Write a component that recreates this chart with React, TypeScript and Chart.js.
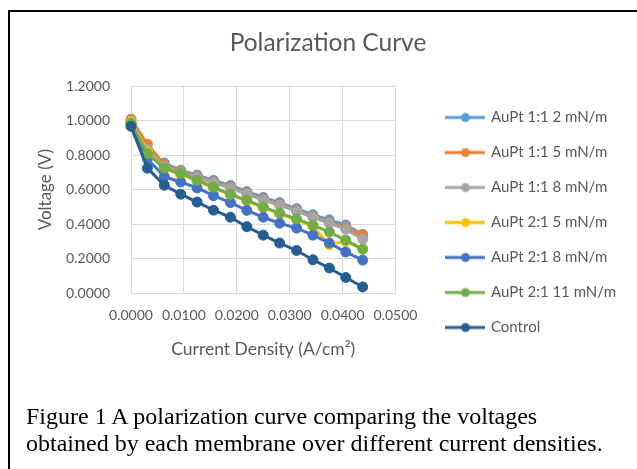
import React, { useEffect, useRef } from "react";
import { Chart, registerables } from "chart.js";

Chart.register(...registerables);

// ---- data ----
const currentDensity = [0, 0.0031, 0.0063, 0.0094, 0.0125, 0.0156, 0.0188, 0.0219, 0.025, 0.0281, 0.0313, 0.0344, 0.0375, 0.0406, 0.0438];

const seriesNames = [
  "AuPt 1:1 2 mN/m",
  "AuPt 1:1 5 mN/m",
  "AuPt 1:1 8 mN/m",
  "AuPt 2:1 5 mN/m",
  "AuPt 2:1 8 mN/m",
  "AuPt 2:1 11 mN/m",
  "Control",
];

const aupt11_2 = [0.99, 0.8, 0.755, 0.713, 0.685, 0.655, 0.625, 0.59, 0.555, 0.525, 0.49, 0.455, 0.425, 0.395, 0.34];
const aupt11_5 = [1.01, 0.865, 0.745, 0.705, 0.675, 0.645, 0.615, 0.58, 0.545, 0.515, 0.48, 0.445, 0.41, 0.38, 0.336];
const aupt11_8 = [1.0, 0.835, 0.735, 0.7, 0.67, 0.64, 0.61, 0.575, 0.54, 0.51, 0.475, 0.44, 0.405, 0.37, 0.313];
const aupt21_5 = [0.99, 0.82, 0.72, 0.69, 0.65, 0.61, 0.57, 0.535, 0.495, 0.46, 0.425, 0.385, 0.282, 0.3, 0.255];
const aupt21_8 = [0.975, 0.78, 0.675, 0.645, 0.61, 0.565, 0.525, 0.48, 0.44, 0.405, 0.377, 0.336, 0.29, 0.238, 0.191];
const aupt21_11 = [0.985, 0.81, 0.725, 0.695, 0.655, 0.615, 0.572, 0.54, 0.5, 0.464, 0.43, 0.394, 0.354, 0.307, 0.255];
const control = [0.968, 0.725, 0.626, 0.574, 0.528, 0.481, 0.44, 0.385, 0.336, 0.29, 0.247, 0.193, 0.145, 0.09, 0.035];

const seriesValues = [aupt11_2, aupt11_5, aupt11_8, aupt21_5, aupt21_8, aupt21_11, control];
const seriesColors = ["#5B9BD5", "#ED7D31", "#A5A5A5", "#FFC000", "#4472C4", "#70AD47", "#255E91"];

const xTickValues = [0, 0.01, 0.02, 0.03, 0.04, 0.05];
const yTickValues = [0, 0.2, 0.4, 0.6, 0.8, 1.0, 1.2];

const chartTitle = "Polarization Curve";
const xAxisTitle = "Current Density (A/cm²)";
const yAxisTitle = "Voltage (V)";
const captionLines = [
  "Figure 1 A polarization curve comparing the voltages",
  "obtained by each membrane over different current densities.",
];

const FONT = "Lato, 'Open Sans', sans-serif";
const TEXT = "#595959";
const GRID = "#d9d9d9";

function legendMarker(color: string) {
  const c = document.createElement("canvas");
  c.width = 40;
  c.height = 12;
  const g = c.getContext("2d")!;
  g.strokeStyle = color;
  g.lineWidth = 3;
  g.beginPath();
  g.moveTo(0, 6);
  g.lineTo(40, 6);
  g.stroke();
  g.fillStyle = color;
  g.beginPath();
  g.arc(20, 6, 4.5, 0, Math.PI * 2);
  g.fill();
  return c;
}

export default function App() {
  const ref = useRef<HTMLCanvasElement | null>(null);

  useEffect(() => {
    if (!ref.current) return;
    const markers = seriesColors.map(legendMarker);
    const datasets = seriesNames.map((name, i) => ({
      label: name,
      data: currentDensity.map((x, j) => ({ x, y: seriesValues[i][j] })),
      borderColor: seriesColors[i],
      backgroundColor: seriesColors[i],
      pointBackgroundColor: seriesColors[i],
      pointBorderColor: seriesColors[i],
      borderWidth: 3,
      pointRadius: 5,
      pointBorderWidth: 1,
      tension: 0,
      order: -i,
      clip: false as any,
    }));

    const chart = new Chart(ref.current, {
      type: "line",
      data: { datasets },
      options: {
        animation: false,
        responsive: false,
        layout: { padding: { top: 0, bottom: 24, left: 30, right: 11 } },
        plugins: {
          title: {
            display: true,
            text: chartTitle,
            color: TEXT,
            font: { family: FONT, size: 24.5, weight: "normal" },
            padding: { top: 28, bottom: 29 },
          },
          legend: {
            position: "right",
            maxWidth: 400,
            labels: {
              usePointStyle: true,
              pointStyleWidth: 36,
              padding: 20,
              color: TEXT,
              font: { family: FONT, size: 15 },
              generateLabels: (ch: any) =>
                ch.data.datasets.map((ds: any, i: number) => ({
                  text: ds.label,
                  fillStyle: seriesColors[i],
                  strokeStyle: seriesColors[i],
                  lineWidth: 0,
                  pointStyle: markers[i],
                  hidden: false,
                  datasetIndex: i,
                  fontColor: TEXT,
                })),
            },
          },
          tooltip: { enabled: false },
        },
        scales: {
          x: {
            type: "linear",
            min: 0,
            max: 0.05,
            afterBuildTicks: (s: any) => {
              s.ticks = xTickValues.map((v) => ({ value: v }));
            },
            afterFit: (s: any) => {
              s.height = 152;
            },
            ticks: {
              color: TEXT,
              font: { family: FONT, size: 14 },
              padding: 14,
              maxRotation: 0,
              callback: (v: any) => Number(v).toFixed(4),
            },
            grid: { color: GRID, lineWidth: 1, drawTicks: false },
            border: { color: GRID },
            title: {
              display: true,
              text: xAxisTitle,
              color: TEXT,
              font: { family: FONT, size: 17.5 },
              padding: { top: 4, bottom: 85 },
            },
          },
          y: {
            type: "linear",
            min: 0,
            max: 1.2,
            afterBuildTicks: (s: any) => {
              s.ticks = yTickValues.map((v) => ({ value: v }));
            },
            afterFit: (s: any) => {
              s.width = 101;
            },
            ticks: {
              color: TEXT,
              font: { family: FONT, size: 14 },
              padding: 21,
              callback: (v: any) => Number(v).toFixed(4),
            },
            grid: { color: GRID, lineWidth: 1, drawTicks: false },
            border: { color: GRID },
            title: {
              display: true,
              text: yAxisTitle,
              color: TEXT,
              font: { family: FONT, size: 17 },
              padding: { top: 5, bottom: 0 },
            },
          },
          spacer: {
            type: "linear",
            position: "right",
            display: true,
            afterFit: (s: any) => {
              s.width = 32;
            },
            ticks: { display: false },
            grid: { display: false, drawTicks: false },
            border: { display: false },
          },
        },
      } as any,
    });
    return () => chart.destroy();
  }, []);

  return (
    <div style={{ position: "absolute", left: 0, top: 0, width: 637, height: 469, background: "#fff", overflow: "hidden" }}>
      <canvas ref={ref} width={637} height={469} style={{ position: "absolute", left: 0, top: 0, width: 637, height: 469 }} />
      <div
        style={{
          position: "absolute",
          left: 8,
          top: 10,
          width: 640,
          height: 470,
          borderTop: "2px solid #000",
          borderLeft: "2px solid #000",
          pointerEvents: "none",
        }}
      />
      <div
        style={{
          position: "absolute",
          left: 26,
          top: 403,
          fontFamily: "'Liberation Serif', 'Times New Roman', serif",
          fontSize: 24,
          lineHeight: "27px",
          color: "#000",
          whiteSpace: "nowrap",
        }}
      >
        {captionLines.map((l, i) => (
          <div key={i}>{l}</div>
        ))}
      </div>
    </div>
  );
}
